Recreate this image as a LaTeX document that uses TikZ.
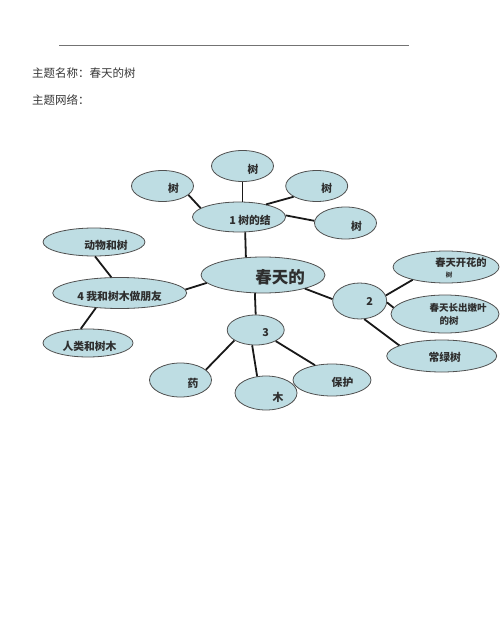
\documentclass[tikz,border=0pt]{standalone}
\usepackage{fontspec}
\newfontfamily\cjk{Noto Sans CJK SC}
\usetikzlibrary{shapes.geometric}
\definecolor{bub}{HTML}{BEDDE3}
\definecolor{edge}{HTML}{505050}
\tikzset{
  bubble/.style={ellipse, draw=edge, line width=0.8pt, fill=bub, inner sep=0pt},
  btext/.style={inner sep=0pt, font=\cjk\bfseries\fontsize{10.8}{12}\selectfont, text=black!82},
  link/.style={line width=1.8pt, black!90},
  hdr/.style={anchor=west, inner sep=0pt, font=\cjk\fontsize{11.5}{13}\selectfont, text=black!78}
}
% name, centre, width, height, text offset, text
\newcommand{\bub}[6]{%
  \node[bubble, minimum width=#3pt, minimum height=#4pt] (#1) at (#2) {};
  \node[btext] (#1-t) at ([shift={(#5)}]#1.center) {#6};}
\begin{document}
\begin{tikzpicture}[x=1pt,y=-1pt]
\useasboundingbox (0,0) rectangle (500,636);
\coordinate (l1) at (59,45);
\coordinate (l2) at (409,45);
\draw[black!55, line width=0.8pt] (l1) -- (l2);
\node[hdr] (h1) at (32,73) {主题名称：春天的树};
\node[hdr] (h2) at (32,100) {主题网络：};

\bub{t1}{242.5,166}{62}{31}{10.5,3}{树}
\bub{t2}{162.5,186}{62}{31}{11,2}{树}
\bub{t3}{316.7,186}{62}{31}{10,2}{树}
\bub{t4}{345.5,223}{62}{32}{11,3}{树}
\bub{n1}{239,217}{93}{30}{11,3}{1 树的结}
\bub{c}{263,275}{124}{36}{17,2}{\fontsize{16.5}{18}\selectfont 春天的}
\bub{n2}{359.7,301}{54}{36}{10,1}{2}
\bub{s1}{446,267}{106}{32}{15,-4}{\fontsize{10.3}{12}\selectfont 春天开花的}
\node[btext, font=\cjk\bfseries\fontsize{6.5}{7}\selectfont] (s1-t2) at ([shift={(3,8)}]s1.center) {树};
\bub{s2}{445,314}{108}{38}{13,-6}{\fontsize{9.5}{11}\selectfont 春天长出嫩叶}
\node[btext, font=\cjk\bfseries\fontsize{9.5}{11}\selectfont] (s2-t2) at ([shift={(4,7)}]s2.center) {的树};
\bub{s3}{441.7,356}{110}{32}{3,1}{常绿树}
\bub{a1}{94,242}{102}{28}{12,3}{动物和树}
\bub{n4}{119.7,293}{134}{31}{0,3}{4 我和树木做朋友}
\bub{a2}{88,343}{90}{28}{1.5,3}{人类和树木}
\bub{n3}{255.7,330}{57}{30}{10,3}{3}
\bub{b1}{180.5,380}{62}{34}{12.5,3}{药}
\bub{b2}{266,393}{62}{34}{12,4}{木}
\bub{b3}{332,380}{78}{32}{10.5,2}{保护}

\draw[link] (t1.south) -- (n1.north -| t1.south);
\draw[link] (t2.-19) -- (n1.167);
\draw[link] (t3.-155) -- (n1.25);
\draw[link] (t4.176) -- (n1.2);
\draw[link] (n1.-68) -- (c.134);
\draw[link] (c.-172) -- (n4.3);
\draw[link] (c.-18) -- (n2.176);
\draw[link] (c.-114) -- (n3.north);
\draw[link] (n2.12) -- (s1.-159);
\draw[link] (n2.-3) -- (s2.173);
\draw[link] (n2.-76) -- (s3.166);
\draw[link] (a1.-86) -- (n4.118);
\draw[link] (n4.-148) -- (a2.117);
\draw[link] (n3.-154) -- (b1.22);
\draw[link] (n3.-103) -- (b2.118);
\draw[link] (n3.-29) -- (b3.139);
\end{tikzpicture}
\end{document}
